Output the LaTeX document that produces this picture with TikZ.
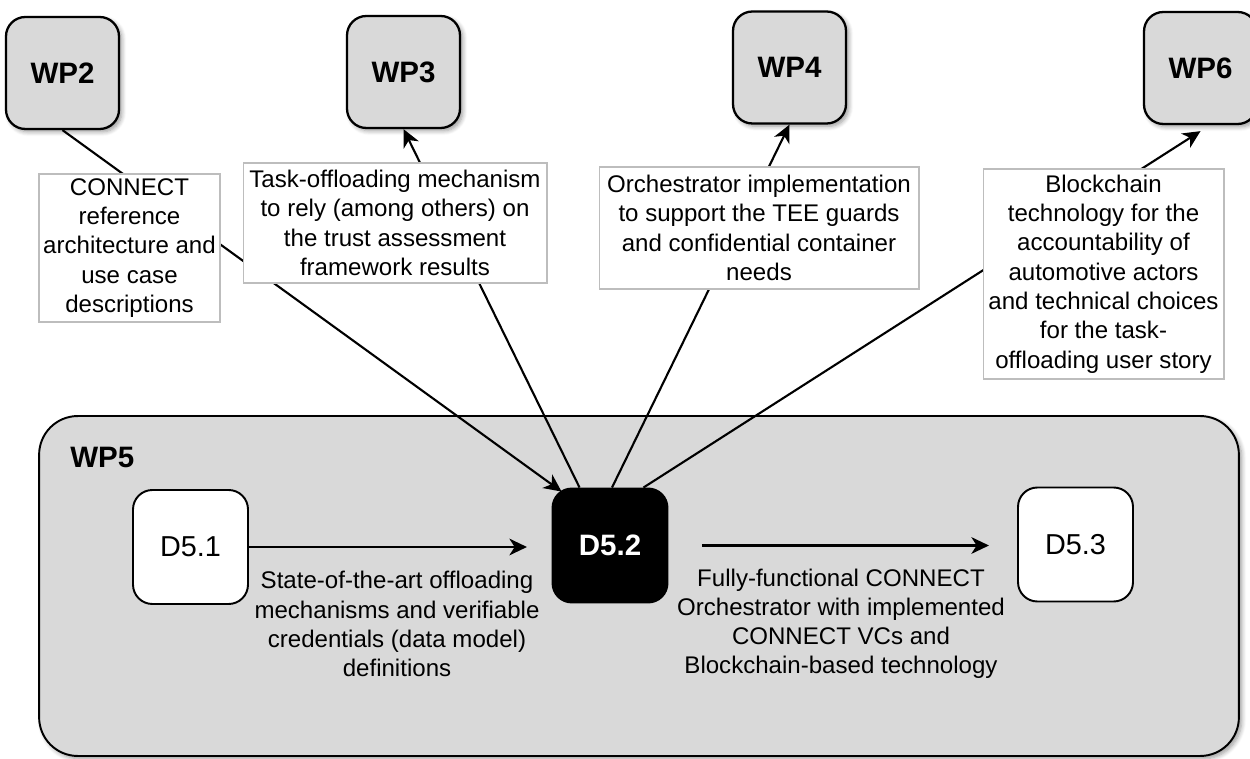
\documentclass[tikz,border=0pt]{standalone}
\usepackage{fontspec}
\setmainfont{Liberation Sans}
\usetikzlibrary{arrows.meta,calc,shadows.blur}

\definecolor{wpgray}{HTML}{D9D9D9}
\definecolor{labelline}{HTML}{BDBDBD}

\tikzset{
  softshadow/.style={blur shadow={shadow xshift=1.6pt, shadow yshift=-1.6pt,
      shadow blur steps=6, shadow blur radius=2.5pt, shadow opacity=40}},
  wpbox/.style={draw=black, line width=1.3pt, fill=wpgray, rounded corners=11pt,
      minimum width=2.26cm, minimum height=2.24cm, inner sep=0pt,
      font=\fontsize{16.8}{19}\selectfont\bfseries, softshadow},
  wpframe/.style={draw=black, line width=1.1pt, fill=wpgray, rounded corners=22pt,
      minimum width=24cm, minimum height=6.8cm, inner sep=0pt, softshadow},
  delbox/.style={draw=black, line width=1.1pt, fill=white, rounded corners=11pt,
      minimum width=2.3cm, minimum height=2.28cm, inner sep=0pt,
      font=\fontsize{16.4}{19}\selectfont},
  delcur/.style={delbox, fill=black, text=white, font=\fontsize{16.8}{19}\selectfont\bfseries},
  notebox/.style={draw=labelline, line width=0.6pt, fill=white, inner sep=0pt,
      align=center, font=\fontsize{13.7}{16.7}\selectfont},
  notetext/.style={inner sep=0pt, align=center, font=\fontsize{13.7}{16.6}\selectfont},
  edge/.style={draw=black, line width=1.2pt,
      -{Stealth[length=10pt, width=9.5pt, inset=3pt]}},
}

\begin{document}
\begin{tikzpicture}[x=0.02cm, y=-0.02cm]
  \useasboundingbox (0,0) rectangle (1250,759);

  % work package 5 frame with its deliverables
  \node[wpframe] (wp5) at (639,586) {};
  \node[anchor=west, inner sep=0pt, font=\fontsize{16.8}{19}\selectfont\bfseries]
       (wp5title) at (70,457) {WP5};
  \node[delbox] (d51) at (190.5,547) {D5.1};
  \node[delcur] (d52) at (610,545.5) {D5.2};
  \node[delbox] (d53) at (1075.5,544.5) {D5.3};

  % other work packages
  \node[wpbox] (wp2) at (62.5,73) {WP2};
  \node[wpbox] (wp3) at (403.5,72) {WP3};
  \node[wpbox] (wp4) at (789.5,67.5) {WP4};
  \node[wpbox] (wp6) at (1200.5,68) {WP6};

  % links between work packages and D5.2
  \draw[edge] (wp2.south) -- ($(d52.north west)+(10,4)$);
  \draw[edge] ($(d52.north west)+(28,0)$) -- (wp3.south);
  \draw[edge] ($(d52.north)+(2,0)$) -- (wp4.south);
  \draw[edge] ($(d52.north east)+(-25,0)$) -- ($(wp6.south)+(0,6)$);

  % deliverable sequence
  \draw[edge, shorten >=14pt] (d51.east) -- (d51.east -| d52.west);
  \draw[edge, shorten <=19pt, shorten >=16pt] (d52.east) -- (d52.east -| d53.west);

  % link descriptions
  \node[notebox, minimum width=3.62cm, minimum height=2.96cm] (n2) at (129.5,248)
       {CONNECT\\reference\\architecture and\\use case\\descriptions};
  \node[notebox, minimum width=6.08cm, minimum height=2.4cm] (n3) at (395,223)
       {Task-offloading mechanism\\to rely (among others) on\\the trust assessment\\framework results};
  \node[notebox, minimum width=6.4cm, minimum height=2.44cm] (n4) at (759,228)
       {Orchestrator implementation\\to support the TEE guards\\and confidential container\\needs};
  \node[notebox, minimum width=4.82cm, minimum height=4.2cm] (n6) at (1103.5,274)
       {Blockchain\\technology for the\\accountability of\\automotive actors\\and technical choices\\for the task-\\offloading user story};

  \node[notetext] (t1) at (397,624)
       {State-of-the-art offloading\\mechanisms and verifiable\\credentials (data model)\\definitions};
  \node[notetext] (t2) at (841,624)
       {Fully-functional CONNECT\\Orchestrator with implemented\\CONNECT VCs and\\Blockchain-based technology};
\end{tikzpicture}
\end{document}
